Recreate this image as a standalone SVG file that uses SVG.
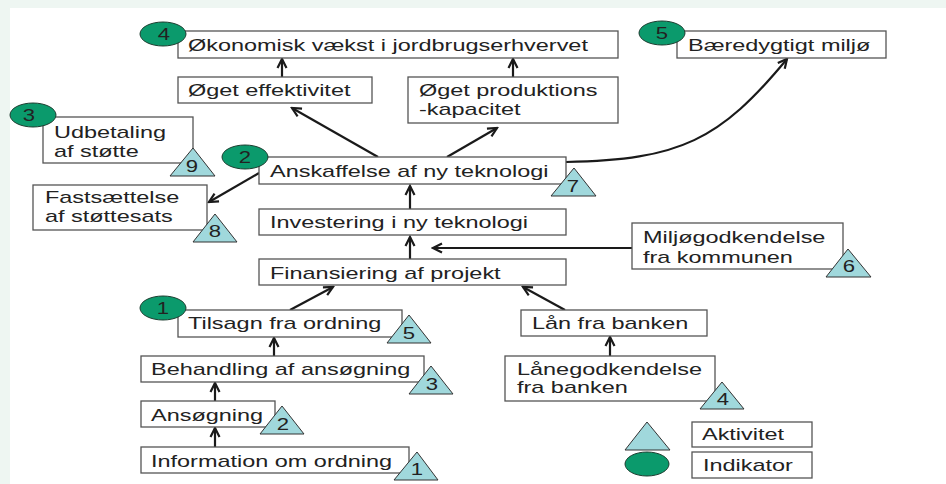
<svg xmlns="http://www.w3.org/2000/svg" width="946" height="484" viewBox="0 0 946 484">
<style>
.bg{fill:#EEF6F2}
.box{fill:#fff;stroke:#555;stroke-width:1.3}
.ind{fill:#0B9A6C;stroke:#1d3d30;stroke-width:1}
.act{fill:#A0D8DC;stroke:#333;stroke-width:1}
.t{font-family:"Liberation Sans",Arial,sans-serif;font-size:17px;fill:#222}
.n{font-family:"Liberation Sans",Arial,sans-serif;font-size:16px;fill:#222;text-anchor:middle}
.c{fill:none;stroke:#1a1a1a;stroke-width:2.2}
</style>
<defs>
<marker id="ah" markerUnits="userSpaceOnUse" markerWidth="12" markerHeight="12" refX="10" refY="6" orient="auto"><path d="M1,1.5 L10,6 L1,10.5" fill="none" stroke="#1a1a1a" stroke-width="2.2"/></marker>
</defs>
<rect class="bg" x="0" y="0" width="946" height="484"/>
<rect x="10" y="8" width="936" height="476" fill="#fff"/>

<g id="connectors">
<path class="c" marker-end="url(#ah)" d="M282,77 L282,59"/>
<path class="c" marker-end="url(#ah)" d="M513,77 L513,59"/>
<path class="c" marker-end="url(#ah)" d="M378,157 L292,108"/>
<path class="c" marker-end="url(#ah)" d="M447,157 L497,128"/>
<path class="c" marker-end="url(#ah)" d="M410,209 L410,186"/>
<path class="c" marker-end="url(#ah)" d="M410,259 L410,237"/>
<path class="c" marker-end="url(#ah)" d="M632,248 L433,248"/>
<path class="c" marker-end="url(#ah)" d="M290,310 L333,287"/>
<path class="c" marker-end="url(#ah)" d="M565,310 L523,287"/>
<path class="c" marker-end="url(#ah)" d="M610,356 L610,337"/>
<path class="c" marker-end="url(#ah)" d="M274,356 L274,338"/>
<path class="c" marker-end="url(#ah)" d="M215,401 L215,383"/>
<path class="c" marker-end="url(#ah)" d="M215,447 L215,428"/>
<path class="c" marker-end="url(#ah)" d="M259,173 L209,202"/>
<path class="c" marker-end="url(#ah)" d="M566,162 C680,160 720,140 787,59"/>
</g>

<g id="oekonomisk">
<rect class="box" x="178" y="31" width="440" height="27"/>
<text class="t" transform="translate(188,51) scale(1.38,1)">Økonomisk vækst i jordbrugserhvervet</text>
<ellipse class="ind" cx="163" cy="34" rx="23" ry="12"/>
<text class="n" transform="translate(164,40) scale(1.38,1)">4</text>
</g>

<g id="baeredygtigt">
<rect class="box" x="677" y="31" width="209" height="27"/>
<text class="t" transform="translate(688,51) scale(1.38,1)">Bæredygtigt miljø</text>
<ellipse class="ind" cx="662" cy="33" rx="23" ry="12"/>
<text class="n" transform="translate(662,39) scale(1.38,1)">5</text>
</g>

<g id="effektivitet">
<rect class="box" x="178" y="77" width="194" height="26"/>
<text class="t" transform="translate(188,96) scale(1.38,1)">Øget effektivitet</text>
</g>

<g id="produktion">
<rect class="box" x="408" y="77" width="210" height="46"/>
<text class="t" transform="translate(419,96) scale(1.38,1)">Øget produktions</text>
<text class="t" transform="translate(419,115) scale(1.38,1)">-kapacitet</text>
</g>

<g id="udbetaling">
<rect class="box" x="43" y="117" width="150" height="46"/>
<text class="t" transform="translate(54,138) scale(1.38,1)">Udbetaling</text>
<text class="t" transform="translate(54,157) scale(1.38,1)">af støtte</text>
<ellipse class="ind" cx="33" cy="115" rx="23" ry="12"/>
<text class="n" transform="translate(29,121) scale(1.38,1)">3</text>
<polygon class="act" points="193,148 170,176 215,176"/>
<text class="n" transform="translate(192,172) scale(1.38,1)">9</text>
</g>

<g id="anskaffelse">
<rect class="box" x="259" y="157" width="307" height="27"/>
<text class="t" transform="translate(270,177) scale(1.38,1)">Anskaffelse af ny teknologi</text>
<ellipse class="ind" cx="245" cy="157" rx="23" ry="12"/>
<text class="n" transform="translate(245,163) scale(1.38,1)">2</text>
<polygon class="act" points="574,168 551,196 596,196"/>
<text class="n" transform="translate(573,192) scale(1.38,1)">7</text>
</g>

<g id="fastsaettelse">
<rect class="box" x="33" y="185" width="174" height="45"/>
<text class="t" transform="translate(45,203) scale(1.38,1)">Fastsættelse</text>
<text class="t" transform="translate(45,222) scale(1.38,1)">af støttesats</text>
<polygon class="act" points="215,214 193,242 237,242"/>
<text class="n" transform="translate(215,237) scale(1.38,1)">8</text>
</g>

<g id="investering">
<rect class="box" x="259" y="209" width="307" height="26"/>
<text class="t" transform="translate(270,228) scale(1.38,1)">Investering i ny teknologi</text>
</g>

<g id="miljoegodkendelse">
<rect class="box" x="632" y="223" width="211" height="46"/>
<text class="t" transform="translate(643,243) scale(1.38,1)">Miljøgodkendelse</text>
<text class="t" transform="translate(643,263) scale(1.38,1)">fra kommunen</text>
<polygon class="act" points="848,249 826,277 871,277"/>
<text class="n" transform="translate(849,272) scale(1.38,1)">6</text>
</g>

<g id="finansiering">
<rect class="box" x="259" y="259" width="307" height="26"/>
<text class="t" transform="translate(270,279) scale(1.38,1)">Finansiering af projekt</text>
</g>

<g id="tilsagn">
<rect class="box" x="178" y="310" width="224" height="27"/>
<text class="t" transform="translate(188,329) scale(1.38,1)">Tilsagn fra ordning</text>
<ellipse class="ind" cx="163" cy="308" rx="23" ry="12"/>
<text class="n" transform="translate(163,314) scale(1.38,1)">1</text>
<polygon class="act" points="409,315 387,343 431,343"/>
<text class="n" transform="translate(409,339) scale(1.38,1)">5</text>
</g>

<g id="laan">
<rect class="box" x="521" y="310" width="186" height="26"/>
<text class="t" transform="translate(532,329) scale(1.38,1)">Lån fra banken</text>
</g>

<g id="behandling">
<rect class="box" x="141" y="356" width="283" height="26"/>
<text class="t" transform="translate(151,375) scale(1.38,1)">Behandling af ansøgning</text>
<polygon class="act" points="431,366 409,394 453,394"/>
<text class="n" transform="translate(432,390) scale(1.38,1)">3</text>
</g>

<g id="laanegodkendelse">
<rect class="box" x="505" y="356" width="210" height="45"/>
<text class="t" transform="translate(517,375) scale(1.38,1)">Lånegodkendelse</text>
<text class="t" transform="translate(517,393) scale(1.38,1)">fra banken</text>
<polygon class="act" points="722,382 700,409 744,409"/>
<text class="n" transform="translate(723,405) scale(1.38,1)">4</text>
</g>

<g id="ansoegning">
<rect class="box" x="141" y="401" width="134" height="26"/>
<text class="t" transform="translate(151,421) scale(1.38,1)">Ansøgning</text>
<polygon class="act" points="282,406 260,434 304,434"/>
<text class="n" transform="translate(283,430) scale(1.38,1)">2</text>
</g>

<g id="information">
<rect class="box" x="141" y="447" width="268" height="26"/>
<text class="t" transform="translate(151,467) scale(1.38,1)">Information om ordning</text>
<polygon class="act" points="417,452 394,480 438,480"/>
<text class="n" transform="translate(417,475) scale(1.38,1)">1</text>
</g>

<g id="legend-aktivitet">
<polygon class="act" points="647,422 625,450 670,450"/>
<rect class="box" x="692" y="422" width="120" height="25"/>
<text class="t" transform="translate(702,440) scale(1.38,1)">Aktivitet</text>
</g>

<g id="legend-indikator">
<ellipse class="ind" cx="647" cy="464" rx="22" ry="12"/>
<rect class="box" x="692" y="452" width="120" height="26"/>
<text class="t" transform="translate(703,471) scale(1.38,1)">Indikator</text>
</g>
</svg>
